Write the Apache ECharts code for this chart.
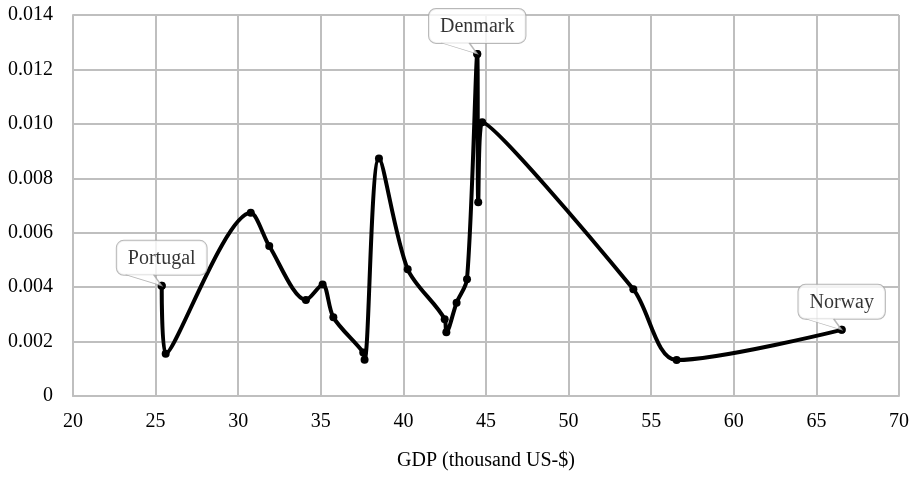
<!DOCTYPE html>
<html>
<head>
<meta charset="utf-8">
<script src="https://cdn.jsdelivr.net/npm/echarts@6/dist/echarts.min.js"></script>
<style>
html,body{margin:0;padding:0;background:#fff;}
#chart{width:914px;height:477px;}
</style>
</head>
<body>
<div id="chart"></div>
<script>
var gdp = [25.37, 25.61, 30.76, 31.88, 34.10, 35.11, 35.76, 37.57, 37.65, 38.52, 40.26, 42.50, 42.60, 43.22, 43.85, 44.47, 44.53, 44.77, 53.92, 56.54, 66.53];
var values = [0.00405, 0.00155, 0.00673, 0.00551, 0.00353, 0.00410, 0.00289, 0.00160, 0.00133, 0.00873, 0.00466, 0.00282, 0.00234, 0.00343, 0.00429, 0.01257, 0.00712, 0.01006, 0.00392, 0.00132, 0.00243];
var labelCountries = ['Portugal', 'Denmark', 'Norway'];
var labelIndex = [0, 15, 20];
var xTicks = [20, 25, 30, 35, 40, 45, 50, 55, 60, 65, 70];
var yTicks = [0, 0.002, 0.004, 0.006, 0.008, 0.010, 0.012, 0.014];

var FONT = '"Liberation Serif", "DejaVu Serif", serif';
var lineData = gdp.map(function (g, i) { return [g, values[i]]; });
var labelData = labelIndex.map(function (idx, k) {
  return { value: [gdp[idx], values[idx]], name: labelCountries[k] };
});
var tailData = labelIndex.map(function (idx) { return [gdp[idx], values[idx]]; });

var chart = echarts.init(document.getElementById('chart'), null, { renderer: 'canvas' });
chart.setOption({
  animation: false,
  backgroundColor: '#fff',
  grid: { left: 73, right: 15, top: 15, bottom: 81, containLabel: false },
  xAxis: {
    type: 'value',
    min: xTicks[0], max: xTicks[xTicks.length - 1], interval: 5,
    name: 'GDP (thousand US-$)',
    nameLocation: 'middle', nameGap: 55,
    nameTextStyle: { fontFamily: FONT, fontSize: 20, color: '#000' },
    axisLine: { show: true, lineStyle: { color: '#bfbfbf', width: 2 } },
    axisTick: { show: false },
    axisLabel: { fontFamily: FONT, fontSize: 20, color: '#000', margin: 16 },
    splitLine: { show: true, lineStyle: { color: '#bfbfbf', width: 2 } }
  },
  yAxis: {
    type: 'value',
    min: yTicks[0], max: yTicks[yTicks.length - 1], interval: 0.002,
    axisLine: { show: true, lineStyle: { color: '#bfbfbf', width: 2 } },
    axisTick: { show: false },
    axisLabel: {
      fontFamily: FONT, fontSize: 20, color: '#000', margin: 20,
      formatter: function (v) { return v === 0 ? '0' : v.toFixed(3); }
    },
    splitLine: { show: true, lineStyle: { color: '#bfbfbf', width: 2 } }
  },
  series: [
    {
      type: 'line',
      data: lineData,
      smooth: 0.3,
      symbol: 'circle',
      symbolSize: 8,
      showAllSymbol: true,
      lineStyle: { color: '#000', width: 4 },
      itemStyle: { color: '#000' },
      z: 3
    },
    {
      type: 'scatter',
      data: labelData,
      symbol: 'circle',
      symbolSize: 8,
      itemStyle: { color: '#000' },
      z: 4,
      label: {
        show: true,
        position: 'top',
        distance: 0,
        formatter: '{b}',
        fontFamily: FONT, fontSize: 20, color: '#000',
        backgroundColor: '#fff',
        borderColor: '#a6a6a6', borderWidth: 1, borderRadius: 7,
        padding: [8, 11, 6, 11]
      },
      labelLayout: { dy: -7 }
    },
    {
      type: 'scatter',
      data: tailData,
      symbol: 'path://M0,0 L36,11 L28,0',
      symbolSize: [36, 11],
      symbolOffset: [-18, -5.5],
      itemStyle: { color: '#fff', borderColor: '#a6a6a6', borderWidth: 1 },
      silent: true,
      z: 5
    }
  ]
});
</script>
</body>
</html>
